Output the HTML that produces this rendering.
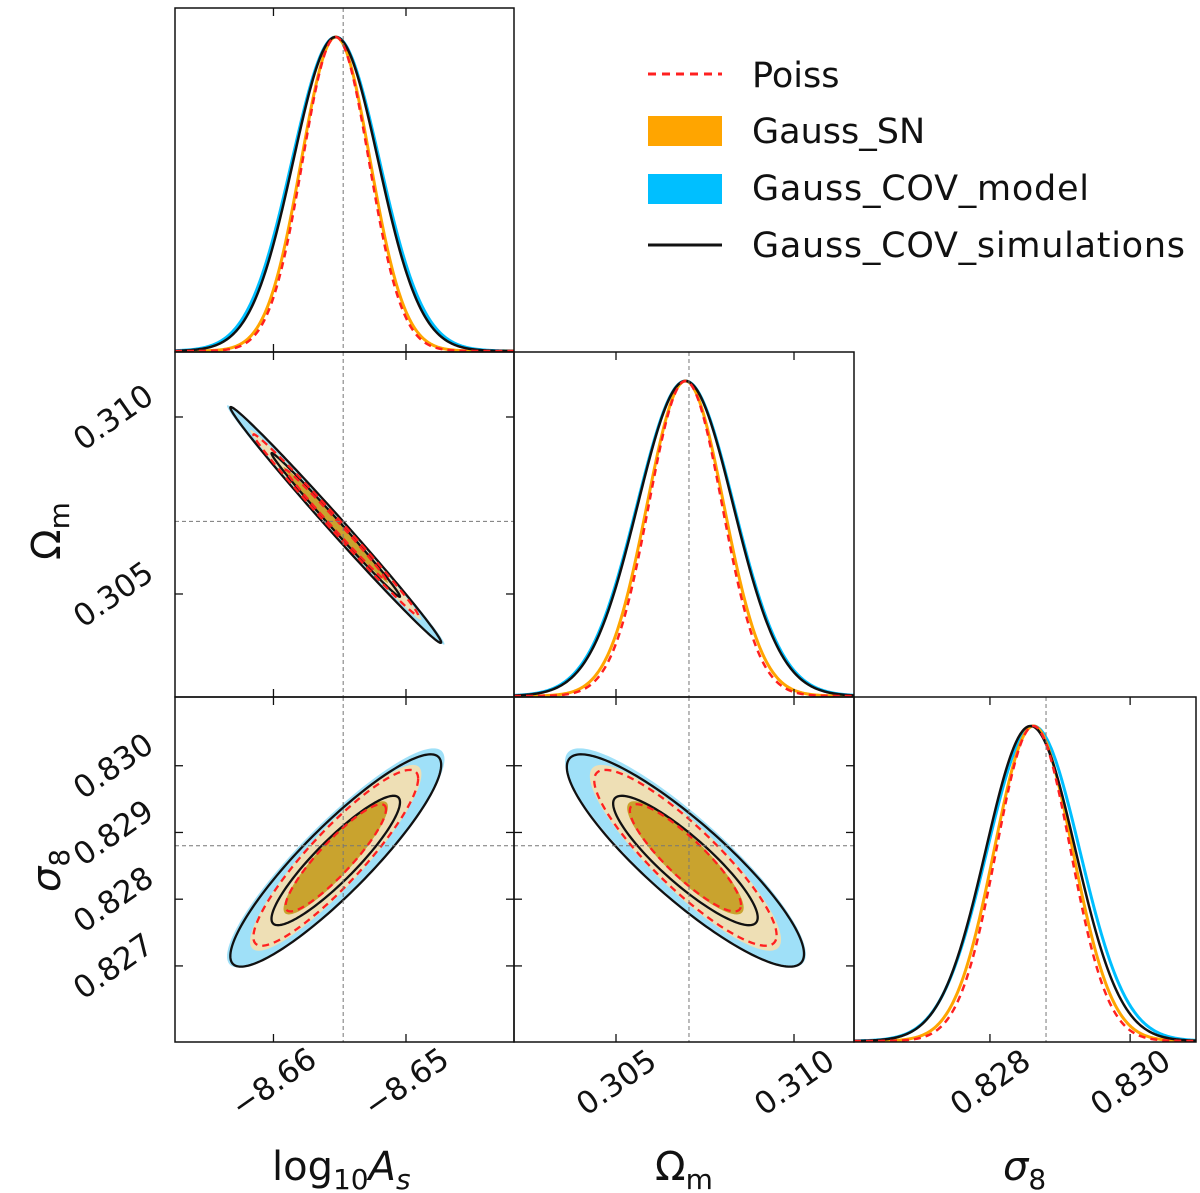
<!DOCTYPE html>
<html><head><meta charset="utf-8"><style>
html,body{margin:0;padding:0;background:#fff;}
svg{display:block;font-family:"DejaVu Sans","Liberation Sans",sans-serif;}
</style></head><body>
<svg id="fig" width="1200" height="1193" viewBox="0 0 1200 1193" xmlns="http://www.w3.org/2000/svg">
<g id="layer"></g>
</svg>
<script>
// ---- data ----
const paramNames = ["log10As","Om","s8"];
const truthValues = [-8.65474, 0.30705, 0.82880];
const seriesNames = ["Gauss_COV_model","Gauss_SN","Gauss_COV_simulations","Poiss"];
const meanAs = [-8.6553, -8.6553, -8.6553, -8.6553];
const meanOm = [0.30695, 0.30695, 0.30695, 0.30695];
const meanS8 = [0.82862, 0.82862, 0.82858, 0.82862];
const sigmaAs = [0.0033, 0.0026, 0.0032, 0.0025];
const sigmaOm = [0.00136, 0.00108, 0.00134, 0.00103];
const sigmaS8 = [0.00066, 0.00056, 0.00064, 0.00053];
const corrAsOm = [-0.995, -0.995, -0.995, -0.995];
const corrAsS8 = [0.90, 0.90, 0.90, 0.90];
const corrOmS8 = [-0.88, -0.88, -0.88, -0.88];
const xTickValsAs = [-8.66, -8.65];
const xTickLabsAs = ["\u22128.66", "\u22128.65"];
const tickValsOm = [0.305, 0.310];
const tickLabsOm = ["0.305", "0.310"];
const tickValsS8x = [0.828, 0.830];
const tickLabsS8x = ["0.828", "0.830"];
const tickValsS8y = [0.827, 0.828, 0.829, 0.830];
const tickLabsS8y = ["0.827", "0.828", "0.829", "0.830"];

// ---- layout ----
const NS = "http://www.w3.org/2000/svg";
const layer = document.getElementById("layer");
const colX = [175, 514, 854, 1196];
const rowY = [8, 352, 697, 1042];
const xRange = [[-8.66743, -8.64185], [0.302135, 0.311685], [0.82606, 0.83094]];
const yRange = [null, [0.30209, 0.311836], [0.82586, 0.83103]];
function sx(p, v) { const r = xRange[p]; return colX[p] + (v - r[0]) / (r[1] - r[0]) * (colX[p + 1] - colX[p]); }
function sy(p, v) { const r = yRange[p]; return rowY[p + 1] - (v - r[0]) / (r[1] - r[0]) * (rowY[p + 1] - rowY[p]); }
function mk(tag, attrs, parent) {
  const e = document.createElementNS(NS, tag);
  for (const k in attrs) e.setAttribute(k, attrs[k]);
  (parent || layer).appendChild(e);
  return e;
}
const means = [meanAs, meanOm, meanS8];
const sigs = [sigmaAs, sigmaOm, sigmaS8];
function corr(i, j, s) {
  if (i === 0 && j === 1) return corrAsOm[s];
  if (i === 0 && j === 2) return corrAsS8[s];
  return corrOmS8[s];
}
const styles = [
  {stroke: "#00bfff", w: 3, dash: null},
  {stroke: "#ffa500", w: 3, dash: null},
  {stroke: "#111", w: 2.5, dash: null},
  {stroke: "#ff2020", w: 2.5, dash: "7,5"}
];

const defs = mk("defs", {});
for (let r = 0; r < 3; r++) for (let c = 0; c <= r; c++) {
  const cp = mk("clipPath", {id: "clip" + r + c}, defs);
  mk("rect", {x: colX[c], y: rowY[r], width: colX[c + 1] - colX[c], height: rowY[r + 1] - rowY[r]}, cp);
}

function ellipsePath(i, j, s, k) {
  const mx = means[i][s], my = means[j][s], a = sigs[i][s], b = sigs[j][s], rho = corr(i, j, s);
  let d = "";
  for (let t = 0; t <= 180; t++) {
    const th = t / 180 * 2 * Math.PI;
    const u = k * Math.cos(th), v = k * Math.sin(th);
    const X = mx + a * u;
    const Y = my + b * (rho * u + Math.sqrt(1 - rho * rho) * v);
    d += (t ? "L" : "M") + sx(i, X).toFixed(2) + "," + sy(j, Y).toFixed(2);
  }
  return d + "Z";
}
const K1 = 1.515, K2 = 2.486;

for (let r = 1; r < 3; r++) for (let c = 0; c < r; c++) {
  const g = mk("g", {"clip-path": "url(#clip" + r + c + ")"});
  
  
  const fills = [["#9fe0f8", "#6fcff2"], ["#eedfb5", "#c9a32e"]];
  for (let s = 0; s < 2; s++) {
    const o = mk("path", {d: ellipsePath(c, r, s, K2), fill: fills[s][0], stroke: "none"}, g);
    
    
    const n = mk("path", {d: ellipsePath(c, r, s, K1), fill: fills[s][1], stroke: "none"}, g);
    
    
  }
  for (let s = 2; s < 4; s++) for (const k of [K1, K2]) {
    const a = {d: ellipsePath(c, r, s, k), fill: "none", stroke: s === 2 ? "#111" : "#ff2020", "stroke-width": 2.3};
    if (s === 3) a["stroke-dasharray"] = "7,5";
    const p = mk("path", a, g);
    
    
  }
  const tv = mk("line", {x1: sx(c, truthValues[c]), x2: sx(c, truthValues[c]), y1: rowY[r], y2: rowY[r + 1], stroke: "#777", "stroke-width": 1, "stroke-dasharray": "4,3"}, g);
  
  
  const th = mk("line", {x1: colX[c], x2: colX[c + 1], y1: sy(r, truthValues[r]), y2: sy(r, truthValues[r]), stroke: "#777", "stroke-width": 1, "stroke-dasharray": "4,3"}, g);
  
  
}

for (let p = 0; p < 3; p++) {
  const g = mk("g", {"clip-path": "url(#clip" + p + p + ")"});
  
  
  const top = rowY[p] + 30, bot = rowY[p + 1];
  for (let s = 0; s < 4; s++) {
    let d = "";
    const N = 300;
    for (let t = 0; t <= N; t++) {
      const v = xRange[p][0] + (xRange[p][1] - xRange[p][0]) * t / N;
      const z = (v - means[p][s]) / sigs[p][s];
      const y = bot - Math.exp(-0.5 * z * z) * (bot - top) - 1;
      d += (t ? "L" : "M") + sx(p, v).toFixed(2) + "," + y.toFixed(2);
    }
    const a = {d: d, fill: "none", stroke: styles[s].stroke, "stroke-width": styles[s].w};
    if (styles[s].dash) a["stroke-dasharray"] = styles[s].dash;
    const e = mk("path", a, g);
    
    
  }
  const tv = mk("line", {x1: sx(p, truthValues[p]), x2: sx(p, truthValues[p]), y1: rowY[p], y2: rowY[p + 1], stroke: "#777", "stroke-width": 1, "stroke-dasharray": "4,3"}, g);
  
  
}

const xTicks = [[xTickValsAs, xTickLabsAs], [tickValsOm, tickLabsOm], [tickValsS8x, tickLabsS8x]];
const yTicks = [null, [tickValsOm, tickLabsOm], [tickValsS8y, tickLabsS8y]];
for (let r = 0; r < 3; r++) for (let c = 0; c <= r; c++) {
  const f = mk("rect", {x: colX[c], y: rowY[r], width: colX[c + 1] - colX[c], height: rowY[r + 1] - rowY[r], fill: "none", stroke: "#111", "stroke-width": 1.5});
  
  
  for (const v of xTicks[c][0]) {
    const x = sx(c, v);
    mk("line", {x1: x, x2: x, y1: rowY[r + 1], y2: rowY[r + 1] - 8, stroke: "#111", "stroke-width": 1.3});
    mk("line", {x1: x, x2: x, y1: rowY[r], y2: rowY[r] + 8, stroke: "#111", "stroke-width": 1.3});
  }
  if (r > 0 && c < r) for (const v of yTicks[r][0]) {
    const y = sy(r, v);
    mk("line", {x1: colX[c], x2: colX[c] + 8, y1: y, y2: y, stroke: "#111", "stroke-width": 1.3});
    mk("line", {x1: colX[c + 1], x2: colX[c + 1] - 8, y1: y, y2: y, stroke: "#111", "stroke-width": 1.3});
  }
}
for (let c = 0; c < 3; c++) {
  xTicks[c][0].forEach((v, i) => {
    const x = sx(c, v), y = 1082;
    const t = mk("text", {x: x, y: y + 11, "font-size": 31, "text-anchor": "middle", transform: "rotate(-35 " + x + " " + y + ")", fill: "#111"});
    t.textContent = xTicks[c][1][i];
    
    
  });
}
for (let r = 1; r < 3; r++) {
  yTicks[r][0].forEach((v, i) => {
    const y = sy(r, v), x = 113;
    const t = mk("text", {x: x, y: y + 11, "font-size": 31, "text-anchor": "middle", transform: "rotate(-35 " + x + " " + y + ")", fill: "#111"});
    t.textContent = yTicks[r][1][i];
    
    
  });
}
</script>
<script>
const svgEl = document.getElementById("fig");
function addText(x, y, size, html, name, extra) {
  const t = document.createElementNS("http://www.w3.org/2000/svg", "text");
  t.setAttribute("x", x); t.setAttribute("y", y); t.setAttribute("font-size", size);
  t.setAttribute("fill", "#111");
  if (extra) for (const k in extra) t.setAttribute(k, extra[k]);
  t.innerHTML = html;
  
  
  svgEl.appendChild(t);
}
addText(272, 1180, 40, 'log<tspan font-size="28" dy="9">10</tspan><tspan dy="-9" font-style="italic">A</tspan><tspan font-size="28" dy="9" font-style="italic">s</tspan>', 'x-axis-title-log10As');
addText(655, 1180, 40, 'Ω<tspan font-size="28" dy="9">m</tspan>', 'x-axis-title-omega-m');
addText(1003, 1180, 40, '<tspan font-style="italic">σ</tspan><tspan font-size="28" dy="9">8</tspan>', 'x-axis-title-sigma8');
addText(60, 560, 40, 'Ω<tspan font-size="28" dy="9">m</tspan>', 'y-axis-title-omega-m', {transform: "rotate(-90 60 560)"});
addText(60, 892, 40, '<tspan font-style="italic">σ</tspan><tspan font-size="28" dy="9">8</tspan>', 'y-axis-title-sigma8', {transform: "rotate(-90 60 892)"});
</script>
<div style="position:absolute;left:0;top:0;width:1200px;height:1193px;pointer-events:none;">
<svg width="1200" height="1193" style="position:absolute;left:0;top:0">
  <g>
    <line x1="648" y1="74" x2="722" y2="74" stroke="#ff2020" stroke-width="3" stroke-dasharray="8,6"/>
    <text x="752" y="87" font-size="35" font-family="DejaVu Sans, Liberation Sans, sans-serif" fill="#111">Poiss</text>
  </g>
  <g>
    <rect x="648" y="116" width="74" height="30" fill="#ffa500"/>
    <text x="752" y="143" font-size="35" font-family="DejaVu Sans, Liberation Sans, sans-serif" fill="#111">Gauss_SN</text>
  </g>
  <g>
    <rect x="648" y="174" width="74" height="30" fill="#00bfff"/>
    <text x="752" y="200" font-size="35" font-family="DejaVu Sans, Liberation Sans, sans-serif" fill="#111" textLength="337">Gauss_COV_model</text>
  </g>
  <g>
    <line x1="648" y1="245" x2="722" y2="245" stroke="#111" stroke-width="3"/>
    <text x="752" y="257" font-size="35" font-family="DejaVu Sans, Liberation Sans, sans-serif" fill="#111" textLength="433">Gauss_COV_simulations</text>
  </g>
</svg>
</div>
</body></html>
